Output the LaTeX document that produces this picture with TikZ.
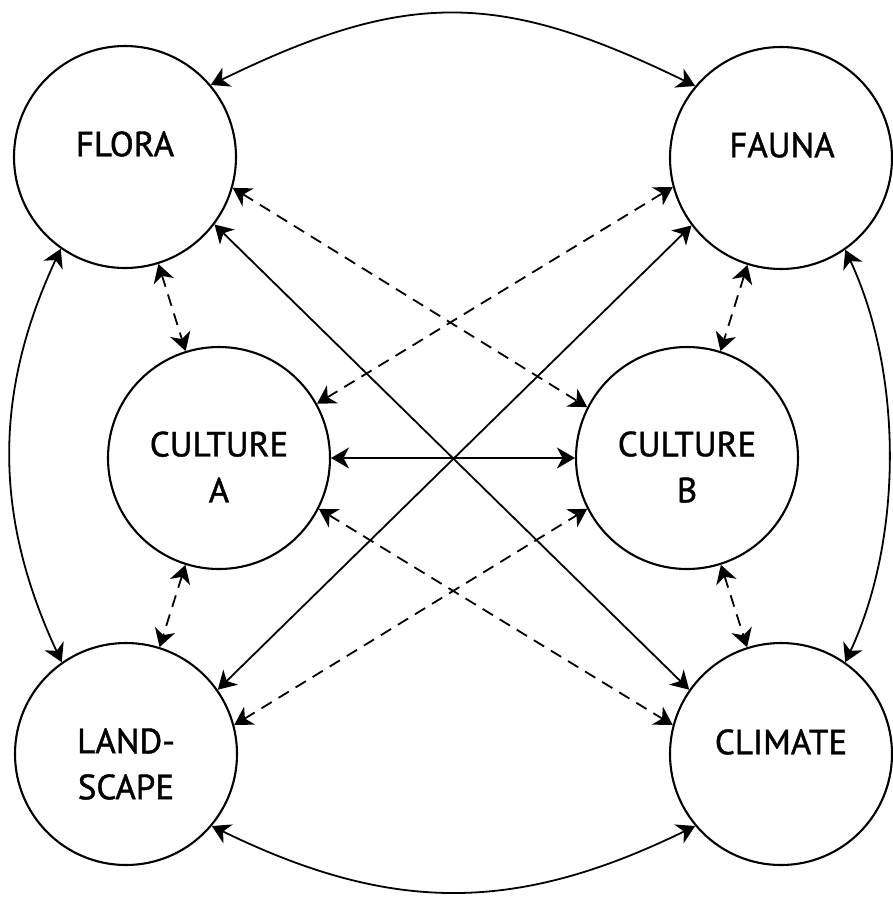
\documentclass[tikz,border=0pt]{standalone}
\usepackage{fontspec}
\setmainfont{PT Sans}
\newfontfamily\lblfont[FakeBold=1.2]{PT Sans}
\usetikzlibrary{arrows.meta}
\begin{document}
\begin{tikzpicture}[x=1pt,y=1pt,
  circ/.style={circle,draw,line width=2.1pt,minimum size=222pt,inner sep=0pt},
  lbl/.style={font=\lblfont\fontsize{35}{46}\selectfont,align=center,inner sep=0pt},
  link/.style={line width=1.8pt,{Stealth[length=18pt,width=21pt,inset=5.5pt]}-{Stealth[length=18pt,width=21pt,inset=5.5pt]}},
  dlink/.style={link,dash pattern=on 12pt off 8pt}]
\useasboundingbox (0,0) rectangle (893,-897);
\node[circ] (flora) at (125,-157) {};
\node[circ] (fauna) at (781,-158) {};
\node[circ] (ca) at (219,-458) {};
\node[circ] (cb) at (687,-458) {};
\node[circ] (ls) at (126,-754) {};
\node[circ] (climate) at (781,-754) {};
\node[lbl] (floraT) at (125,-144) {FLORA};
\node[lbl] (faunaT) at (782,-145) {FAUNA};
\node[lbl] (caT) at (219,-467) {CULTURE\\A};
\node[lbl] (cbT) at (687,-467) {CULTURE\\B};
\node[lbl] (lsT) at (126,-764) {LAND-\\SCAPE};
\node[lbl] (climateT) at (781,-742) {CLIMATE};
% outer arcs
\draw[link] (flora.40) to[out=26,in=154,looseness=1.15] (fauna.140);
\draw[link] (flora.235) to[out=245,in=115,looseness=0.99] (ls.125);
\draw[link] (fauna.-55) to[out=-65,in=65,looseness=0.85] (climate.55);
\draw[link] (ls.-40) to[out=-26,in=206,looseness=1.06] (climate.220);
% vertical dashed
\draw[dlink] (flora) -- (ca);
\draw[dlink] (fauna) -- (cb);
\draw[dlink] (ca) -- (ls);
\draw[dlink] (cb) -- (climate);
% solid
\draw[link] (ca) -- (cb);
\draw[link] (flora.-37) -- (climate.145);
\draw[link] (ls.35) -- (fauna.217);
% dashed diagonals
\draw[dlink] (flora.-16) -- (cb.153);
\draw[dlink] (ca.29) -- (fauna.195);
\draw[dlink] (ca.-27) -- (climate.165);
\draw[dlink] (ls.15) -- (cb.207);
\end{tikzpicture}
\end{document}
